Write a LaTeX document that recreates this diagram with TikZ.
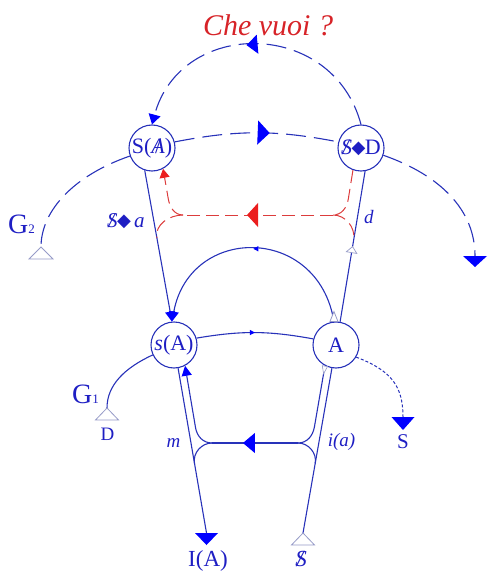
\documentclass[tikz,border=0pt]{standalone}
\usepackage{fontspec}
\setmainfont{Liberation Serif}
\newfontfamily\dejavu{DejaVu Sans}
\usetikzlibrary{arrows.meta,decorations.markings,calc}
\definecolor{lineblue}{RGB}{40,50,185}
\definecolor{txtblue}{RGB}{30,30,195}
\definecolor{arrblue}{RGB}{0,0,255}
\definecolor{redd}{RGB}{220,60,60}
\definecolor{redarr}{RGB}{235,30,30}
\definecolor{redtxt}{RGB}{215,35,40}
\definecolor{grayt}{RGB}{150,155,200}
\newcommand\barS{\ooalign{\textit{S}\cr\hidewidth\textit{/}\hidewidth\cr}}
\newcommand\barA{\ooalign{\textit{A}\cr\hidewidth/\hidewidth\cr}}
\newcommand\dmd{{\dejavu\fontsize{18}{18}\selectfont\kern-0.5pt\raisebox{0.5pt}{◆}\kern-0.5pt}}
\begin{document}
\begin{tikzpicture}[x=1pt,y=1pt,
 vtx/.style={circle,draw=lineblue,line width=1.1pt,minimum size=46pt,inner sep=0pt,text=txtblue,font=\fontsize{22}{22}\selectfont},
 bline/.style={draw=lineblue,line width=1.1pt},
 bdash/.style={draw=lineblue,line width=1.1pt,dash pattern=on 20pt off 8pt},
 rdash/.style={draw=redd,line width=1pt,dash pattern=on 13pt off 6pt},
 lbl/.style={text=txtblue,inner sep=0pt,anchor=base},
 opentri/.style={draw=grayt,fill=white,line width=0.8pt},
 tipb/.style={-{Triangle[width=10pt,length=10pt,color=arrblue]}},
 ]
\useasboundingbox (0,0) rectangle (490,-577);
% nodes
\node[vtx] (SA) at (152,-148) {S(\barA)};
\node[vtx] (SD) at (361,-148) {\barS\dmd D};
\node[vtx] (sA) at (174,-345) {\textit{s}(A)};
\node[vtx] (A) at (336,-345) {A};
% coordinates
\coordinate (IAt) at (206.5,-533);
\coordinate (Dt) at (303,-533);
\coordinate (lJ) at (212,-443);
\coordinate (rJ) at (298,-443);
\coordinate (lIU) at (195.6,-428);
\coordinate (rIU) at (314.4,-427);
\coordinate (lOB) at ($(sA.-80)!0.577!(IAt)$);
\coordinate (rOB) at ($(Dt)!0.423!(A.-100)$);
\coordinate (rJR) at (333,-215);
\coordinate (rJL) at (183,-215);
\coordinate (rUR) at (348.3,-199);
\coordinate (rUL) at (168.3,-199);
\coordinate (rBR) at ($(A.80)!0.543!(SD.-80)$);
\coordinate (rBL) at ($(SA.-108)!0.447!(sA.95)$);
\coordinate (G2a) at (41,-247);
\coordinate (G1a) at (107,-408);
\coordinate (RAt) at (475,-256);
\coordinate (St) at (403,-417);
% upper solid structure
\draw[bline,tipb] (SA.-108) -- (sA.95);
\draw[bline,tipb,postaction={decorate},decoration={markings,
  mark=at position 0.5 with {\arrow{Triangle[width=5pt,length=5pt,color=arrblue]}}}]
  (A.95) .. controls +(-16,97) and +(18,97) .. (sA.95);
\draw[bline,postaction={decorate},decoration={markings,
  mark=at position 0.503 with {\arrow{Triangle[width=12pt,length=7pt,line width=0.7pt,color=grayt,fill=white]}}}]
  (A.80) -- (SD.-80);
\draw[bline,postaction={decorate},decoration={markings,
  mark=at position 0.5 with {\arrow{Triangle[width=5pt,length=5pt,color=arrblue]}}}]
  (sA.17) to[bend left=10] (A.165);
\draw[opentri] ($(A.95)+(-4,0)$) -- ($(A.95)+(4,0)$) -- ($(A.95)+(0,10)$) -- cycle;
% lower structure
\draw[bline] (sA.-80) -- (IAt);
\fill[arrblue] ($(IAt)+(-11.5,0)$) -- ($(IAt)+(11.5,0)$) -- ($(IAt)+(0,-12)$) -- cycle;
\draw[bline] (Dt) -- (A.-100);
\draw[opentri] (Dt) -- ++(-11.5,-12) -- ++(23,0) -- cycle;
\draw[bline,postaction={decorate},decoration={markings,
  mark=at position 9pt with {\arrow{Triangle[width=6pt,length=9pt,line width=0.6pt,color=grayt,fill=white]}}}]
  (A.-118) -- (rIU) to[out=-100,in=0] (rJ);
\draw[bline,postaction={decorate},decoration={markings,
  mark=at position 0.64 with {\arrow{Triangle[width=20pt,length=12pt,color=arrblue]}}}]
  (rJ) -- (lJ);
\draw[bline,tipb] (lJ) to[out=180,in=-80] (lIU) -- (sA.-62);
\draw[bline] (lJ) to[out=180,in=100] (lOB);
\draw[bline] (rJ) to[out=0,in=80] (rOB);
% red dashed structure
\draw[rdash] (SD.-110) -- (rUR) to[out=-99,in=0] (rJR);
\draw[rdash,postaction={decorate},decoration={markings,
  mark=at position 0.573 with {\arrow{Triangle[width=24pt,length=11pt,color=redarr]}}}]
  (rJR) -- (rJL);
\draw[rdash,-{Triangle[width=10pt,length=9pt,color=redarr]}] (rJL) to[out=180,in=-80] (rUL) -- (SA.-62);
\draw[rdash] (rJR) to[out=0,in=81] (rBR);
\draw[rdash] (rJL) to[out=180,in=100] (rBL);
% blue dashed arcs
\draw[bdash,postaction={decorate},decoration={markings,
  mark=at position 0.58 with {\arrow{Triangle[width=24pt,length=12pt,color=arrblue]}}}]
  (SA.15) to[bend left=11] (SD.165);
\draw[bdash,-{Triangle[width=12pt,length=10pt,color=arrblue]},postaction={decorate},decoration={markings,
  mark=at position 0.535 with {\arrow{Triangle[width=19pt,length=11pt,color=arrblue]}}}]
  (SD.north) to[out=105,in=75,looseness=1.35] (SA.north);
\draw[bdash] (SA.200) .. controls +(-55,-19) and +(0,37) .. (G2a);
\draw[opentri] (G2a) -- ++(-12,-12) -- ++(24,0) -- cycle;
\draw[bdash] (SD.-18) .. controls +(57,-20) and +(0,46) .. (RAt);
\fill[arrblue] ($(RAt)+(-12,0)$) -- ($(RAt)+(12,0)$) -- ($(RAt)+(0,-11)$) -- cycle;
% dotted A -> S
\draw[draw=lineblue,line width=1pt,dash pattern=on 3pt off 2pt] (A.-31) .. controls +(34,-13) and +(0,32) .. (St);
\fill[arrblue] ($(St)+(-11.5,0)$) -- ($(St)+(11.5,0)$) -- ($(St)+(0,-13)$) -- cycle;
% G1
\draw[bline] (sA.205) .. controls +(-28,-13) and +(0,23) .. (G1a);
\draw[opentri] (G1a) -- ++(-11.5,-12) -- ++(23,0) -- cycle;
% labels
\node[lbl,text=redtxt,font=\fontsize{30}{30}\selectfont\itshape] (che) at (268,-36) {Che vuoi ?};
\node[lbl,anchor=base west,font=\fontsize{21}{21}\selectfont] (lsa) at (107,-227) {\barS\dmd\,\textit{a}};
\node[lbl,font=\fontsize{19}{19}\selectfont] (ld) at (369,-223) {\textit{d}};
\node[lbl,font=\fontsize{19}{19}\selectfont] (lm) at (173.5,-447) {\textit{m}};
\node[lbl,font=\fontsize{19}{19}\selectfont] (lia) at (341.5,-446) {\textit{i(a)}};
\node[lbl,font=\fontsize{23}{23}\selectfont] (lIA) at (208,-566) {I(A)};
\node[lbl,font=\fontsize{23}{23}\selectfont] (lS0) at (301,-566) {\barS};
\node[lbl,font=\fontsize{21}{21}\selectfont] (lS) at (403,-448) {S};
\node[lbl,font=\fontsize{19}{19}\selectfont] (lD) at (107.5,-440) {D};
\node[lbl,anchor=base west] (lG1) at (72,-403) {{\fontsize{28}{28}\selectfont G}{\fontsize{13}{13}\selectfont 1}};
\node[lbl,anchor=base west] (lG2) at (8,-233) {{\fontsize{28}{28}\selectfont G}{\fontsize{13}{13}\selectfont 2}};
\end{tikzpicture}
\end{document}
